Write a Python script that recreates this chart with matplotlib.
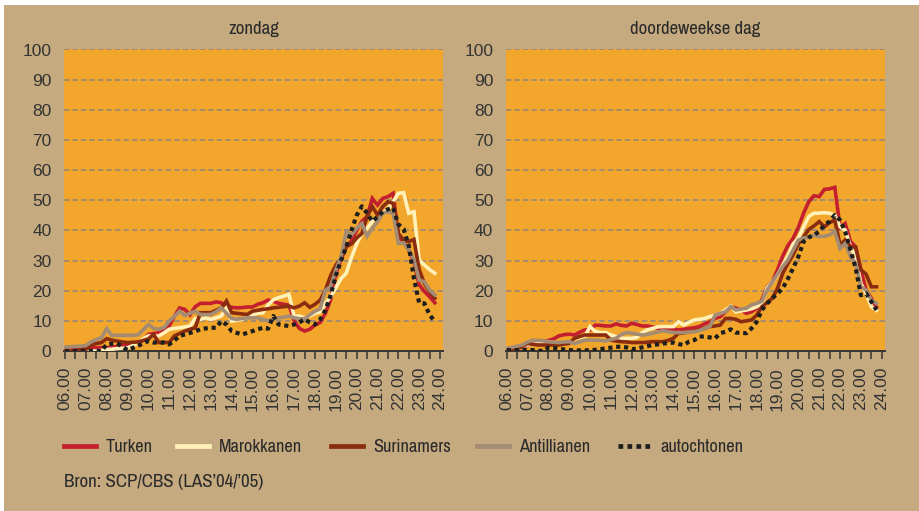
import numpy as np
import matplotlib
matplotlib.use("Agg")
import matplotlib.pyplot as plt
from matplotlib.patches import Rectangle
from matplotlib import font_manager

# ---------------- data (15-minute slots, 06.00 .. 23.45) ----------------
times = [6 + 0.25 * i for i in range(72)]
hour_labels = ["%02d.00" % h for h in range(6, 25)]
series_names = ["Turken", "Marokkanen", "Surinamers", "Antillianen", "autochtonen"]
panel_titles = ["zondag", "doordeweekse dag"]
source_text = "Bron: SCP/CBS (LAS\u201904/\u201905)"

zon_turken = [0.3, 0.3, 0.5, 0.6, 0.8, 1.0, 1.1, 1.1, 1.1, 1.2, 1.5, 1.9,
              2.2, 2.5, 2.8, 3.5, 5.5, 5.8, 6.0, 7.0, 8.3, 11.5, 14.3, 13.8,
              12.0, 14.7, 15.8, 15.8, 15.8, 16.3, 16.0, 15.0, 14.5, 14.3, 14.4, 14.6,
              14.6, 15.5, 16.0, 16.9, 16.5, 15.8, 15.5, 15.2, 10.0, 7.5, 6.6, 7.2,
              8.6, 9.5, 12.5, 17.0, 25.8, 30.5, 34.6, 36.5, 40.0, 43.0, 44.6, 50.6,
              48.4, 50.6, 51.2, 52.3, 38.0, 36.2, 33.5, 29.5, 22.0, 19.8, 18.0, 16.0]
zon_marokkanen = [0, 0, 0, 0, 0, 0, 0, 0.2, 0.5, 0.6, 0.8, 0.9,
                  1.0, 1.8, 2.8, 4.0, 5.0, 5.0, 5.0, 6.0, 7.2, 7.5, 7.7, 8.0,
                  8.3, 10.8, 10.5, 11.0, 10.5, 11.0, 11.6, 14.3, 9.9, 10.2, 10.5, 11.3,
                  12.1, 12.5, 12.7, 15.3, 17.0, 17.7, 18.2, 18.8, 11.5, 11.6, 11.0, 11.6,
                  12.5, 13.0, 15.8, 18.0, 21.0, 24.0, 25.8, 31.0, 35.5, 39.0, 40.7, 42.9,
                  44.6, 45.7, 47.0, 49.5, 52.3, 52.5, 45.7, 46.2, 30.2, 28.5, 27.0, 25.8]
zon_surinamers = [0, 0, 0.2, 0.3, 0.5, 2.0, 2.5, 2.8, 4.1, 3.6, 3.3, 3.0,
                  2.8, 2.9, 3.0, 3.5, 4.0, 5.5, 2.8, 2.8, 2.8, 5.0, 5.8, 6.6,
                  7.2, 7.7, 12.7, 12.7, 12.7, 13.5, 14.3, 16.6, 12.7, 12.5, 12.3, 12.1,
                  13.2, 13.5, 13.8, 14.0, 14.3, 14.5, 14.7, 14.9, 14.3, 14.9, 16.0, 14.5,
                  15.5, 16.9, 20.2, 25.0, 28.5, 30.7, 34.6, 35.5, 37.5, 39.0, 44.6, 47.9,
                  45.1, 47.9, 49.5, 49.0, 39.0, 36.8, 36.3, 37.0, 27.0, 22.4, 19.7, 17.5]
zon_antillianen = [1.3, 1.4, 1.5, 1.6, 1.8, 3.0, 3.8, 4.4, 7.4, 5.2, 5.2, 5.2,
                   5.2, 5.2, 5.4, 7.0, 8.8, 7.5, 7.2, 7.8, 9.9, 11.5, 13.2, 11.8,
                   12.5, 13.2, 12.1, 12.1, 12.1, 13.0, 14.3, 12.5, 10.8, 10.5, 10.8, 11.0,
                   11.0, 11.0, 10.5, 10.0, 10.5, 11.0, 11.2, 11.6, 11.0, 10.7, 10.7, 12.0,
                   13.2, 14.0, 20.2, 21.3, 26.9, 31.3, 39.6, 38.5, 40.7, 42.3, 38.1, 40.7,
                   42.9, 45.7, 46.2, 45.7, 35.7, 35.9, 33.5, 30.2, 23.5, 23.0, 20.2, 18.6]
zon_autochtonen = [0, 0, 0, 0, 0, 0, 0, 0, 2.2, 2.4, 2.5, 1.5,
                   0.3, 1.0, 1.7, 2.5, 3.3, 2.8, 2.8, 2.8, 2.2, 3.5, 5.0, 5.5,
                   6.0, 6.5, 7.2, 7.5, 7.7, 7.7, 9.9, 8.8, 6.6, 6.0, 5.5, 6.0,
                   6.6, 7.2, 7.7, 7.4, 11.6, 8.8, 8.5, 8.3, 8.8, 9.5, 10.5, 9.5,
                   8.8, 10.5, 13.6, 18.5, 25.0, 30.0, 34.5, 40.0, 45.0, 48.0, 45.7, 43.0,
                   44.5, 46.2, 47.0, 47.5, 42.0, 40.5, 35.0, 24.0, 16.0, 15.8, 12.0, 9.8]

wk_turken = [0.5, 0.8, 1.2, 1.4, 1.8, 2.3, 2.7, 3.1, 3.5, 4.0, 5.0, 5.4,
             5.6, 5.3, 6.2, 7.0, 7.0, 8.6, 8.5, 8.3, 8.3, 9.0, 8.5, 8.3,
             9.2, 8.8, 8.3, 8.3, 8.0, 7.5, 7.5, 7.5, 7.2, 7.0, 7.2, 7.5,
             7.7, 8.1, 9.0, 9.7, 10.8, 11.4, 13.0, 14.7, 14.2, 13.6, 12.5, 13.0,
             14.2, 17.0, 21.3, 23.0, 27.0, 31.5, 35.0, 37.4, 41.0, 45.7, 49.5, 51.5,
             51.2, 53.6, 53.8, 54.3, 41.0, 42.3, 36.3, 34.6, 26.9, 20.2, 17.5, 14.5]
wk_marokkanen = [0.9, 1.0, 1.2, 1.6, 2.0, 2.2, 2.5, 2.8, 3.1, 2.8, 2.6, 2.5,
                 2.5, 4.0, 4.5, 4.8, 8.1, 6.5, 6.1, 6.1, 5.3, 4.8, 4.2, 4.2,
                 4.2, 4.5, 6.1, 7.0, 7.5, 8.0, 8.1, 8.1, 8.1, 9.7, 8.6, 9.5,
                 10.3, 10.5, 10.8, 11.4, 11.9, 12.5, 13.6, 14.9, 13.0, 13.3, 13.6, 14.0,
                 14.7, 15.8, 21.0, 23.0, 25.2, 28.5, 31.5, 35.5, 37.4, 41.2, 44.6, 45.7,
                 45.7, 45.9, 45.7, 45.1, 41.2, 40.1, 34.6, 31.3, 22.4, 19.1, 14.7, 13.5]
wk_surinamers = [0.5, 0.6, 0.8, 1.5, 2.5, 2.2, 2.0, 2.0, 2.0, 2.0, 2.0, 2.3,
                 2.5, 4.2, 4.8, 5.3, 5.3, 5.3, 5.3, 5.3, 3.6, 3.3, 3.1, 3.0,
                 2.8, 2.8, 2.8, 2.9, 3.1, 3.1, 3.1, 3.5, 4.2, 5.9, 6.0, 6.4,
                 6.6, 7.0, 7.5, 8.1, 8.3, 8.6, 10.8, 10.8, 10.5, 9.7, 10.0, 10.3,
                 11.9, 14.7, 16.0, 17.5, 20.8, 25.8, 29.0, 32.0, 35.5, 37.9, 40.3, 41.5,
                 42.9, 41.2, 42.6, 43.4, 35.2, 36.8, 34.6, 34.4, 26.9, 25.5, 21.3, 21.3]
wk_antillianen = [0.9, 1.2, 1.6, 2.0, 3.0, 3.6, 3.5, 3.4, 3.1, 2.9, 2.8, 3.0,
                  3.1, 2.5, 3.0, 3.6, 3.6, 3.6, 3.5, 3.3, 3.8, 4.2, 5.5, 6.1,
                  5.9, 5.6, 5.3, 5.5, 5.9, 6.3, 6.7, 6.4, 6.1, 6.1, 6.1, 6.3,
                  6.4, 6.8, 7.5, 8.1, 11.9, 12.5, 13.0, 14.7, 13.6, 13.9, 14.2, 15.3,
                  15.8, 16.5, 20.2, 23.0, 25.5, 28.0, 30.2, 33.5, 36.8, 37.5, 37.7, 38.5,
                  37.9, 38.1, 38.5, 39.6, 34.0, 35.7, 31.3, 29.1, 21.3, 20.2, 16.9, 15.8]
wk_autochtonen = [0.3, 0.3, 0.3, 0.3, 0.3, 0.3, 0.1, 0.0, 1.1, 1.0, 0.8, 0.5,
                  0.3, 0.2, 0.2, 0.2, 0.3, 0.4, 0.6, 0.9, 1.1, 1.4, 1.4, 1.2,
                  0.6, 0.8, 1.2, 1.6, 2.0, 2.2, 2.5, 2.6, 2.8, 2.3, 2.0, 3.1,
                  3.6, 4.8, 4.8, 4.5, 4.2, 5.9, 6.4, 7.2, 6.1, 6.0, 5.9, 7.5,
                  9.7, 13.6, 15.8, 17.5, 19.1, 20.8, 24.0, 27.5, 31.3, 36.3, 37.7, 38.5,
                  39.6, 41.8, 43.0, 45.1, 43.4, 39.6, 33.5, 27.5, 18.5, 19.1, 16.4, 13.6]

panels = [
    [zon_turken, zon_marokkanen, zon_surinamers, zon_antillianen, zon_autochtonen],
    [wk_turken, wk_marokkanen, wk_surinamers, wk_antillianen, wk_autochtonen],
]

# ---------------- styling ----------------
TAN = "#C5AA80"
ORANGE = "#F2A62B"
GRID = "#A08A72"
TXT = "#2A2A2A"
colors = ["#C41F2F", "#FFF1B8", "#8A2C10", "#A38B74", "#1E1E1E"]

avail = {f.name for f in font_manager.fontManager.ttflist}
cond = "DejaVu Sans"
for cand in ["Archivo Narrow", "Roboto Condensed", "PT Sans Narrow", "Fira Sans Condensed",
             "IBM Plex Sans Condensed", "Liberation Sans Narrow", "Asap Condensed",
             "Encode Sans Condensed", "Barlow Semi Condensed"]:
    if cand in avail:
        cond = cand
        break
base = "Liberation Sans" if "Liberation Sans" in avail else "DejaVu Sans"
plt.rcParams["font.family"] = [base, "DejaVu Sans"]
CFAM = [cond, "DejaVu Sans"]

fig = plt.figure(figsize=(9.19, 5.11), dpi=100, facecolor="white")
fig.patches.append(Rectangle((4 / 919, 0), 1, 1 - 5 / 511, transform=fig.transFigure,
                             facecolor=TAN, edgecolor="none", zorder=-10))
renderer = fig.canvas.get_renderer()


def fit_size(s, family, target_px, trial=20.0):
    t = fig.text(0, 0, s, fontsize=trial, family=family)
    wpx = t.get_window_extent(renderer).width
    t.remove()
    return trial * target_px / wpx


axes_left = [64 / 919, 505.7 / 919]
w = 379 / 919
bottom = 1 - 351 / 511
h = (351 - 49.5) / 511

title_size = fit_size("doordeweekse dag", CFAM, 130)
leg_size = fit_size("Marokkanen", CFAM, 83)
src_size = fit_size(source_text, CFAM, 200)

handles = None
for p, left in enumerate(axes_left):
    ax = fig.add_axes([left, bottom, w, h])
    ax.set_facecolor(ORANGE)
    ax.set_xlim(5.952, 24.144)
    ax.set_ylim(0, 100)
    for v in range(10, 101, 10):
        ax.axhline(v, color=GRID, lw=1.3, linestyle=(0, (3, 1.7)), zorder=1)
    lines = []
    for k, (name, vals) in enumerate(zip(series_names, panels[p])):
        if name == "autochtonen":
            ln, = ax.plot(times, vals, color=colors[k], lw=3.0,
                          linestyle=(0, (1.0, 0.9)), dash_capstyle="butt",
                          label=name, zorder=3 + k)
        else:
            ln, = ax.plot(times, vals, color=colors[k], lw=2.6,
                          solid_joinstyle="miter", label=name, zorder=3 + k)
        lines.append(ln)
    if handles is None:
        handles = lines
    for s in ["top", "right", "left"]:
        ax.spines[s].set_visible(False)
    ax.spines["bottom"].set_color("#333333")
    ax.spines["bottom"].set_linewidth(1.4)
    ax.set_xticks(list(range(6, 25)))
    ax.set_xticklabels(hour_labels, rotation=90, fontsize=12.5, color="#333333")
    ax.set_xticks([x + 0.5 for x in range(6, 24)], minor=True)
    ax.tick_params(axis="x", which="both", direction="out", length=5.5, width=1.1,
                   color="#333333", pad=6)
    ax.set_yticks(list(range(0, 101, 10)))
    ax.set_yticklabels([str(v) for v in range(0, 101, 10)], fontsize=12.5, color="#333333")
    ax.tick_params(axis="y", length=0, pad=9)
    ax.set_title(panel_titles[p], fontsize=title_size, family=CFAM, color=TXT, pad=11)

# legend: one entry per position, matching the reference spacing
leg_x = [64, 177, 331, 477, 618]
em_px = leg_size * 100 / 72
for ln, name, x0 in zip(handles, series_names, leg_x):
    lg = fig.legend(handles=[ln], labels=[name], loc="center left",
                    bbox_to_anchor=(x0 / 919, 1 - 447 / 511), frameon=False,
                    prop={"family": CFAM, "size": leg_size},
                    handlelength=32 / em_px, handletextpad=10 / em_px,
                    borderpad=0, borderaxespad=0, labelcolor=TXT)
    for hl in lg.get_lines():
        hl.set_linewidth(3.4)

fig.text(64 / 919, 1 - 482 / 511, source_text, fontsize=src_size, family=CFAM,
         color=TXT, va="center")

fig.savefig("out.png", dpi=100, facecolor=fig.get_facecolor())
